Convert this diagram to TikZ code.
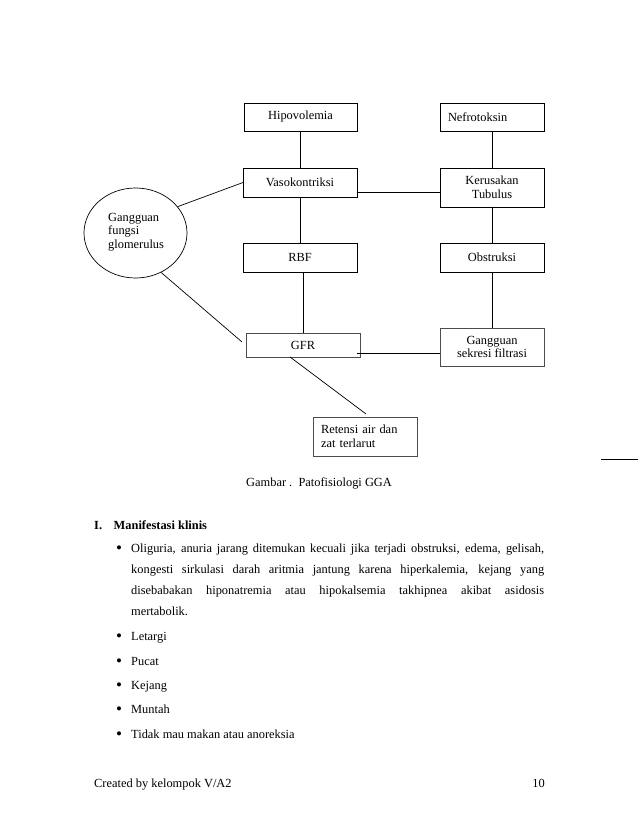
\documentclass[tikz,border=0pt]{standalone}
\usepackage{fontspec}
\setmainfont{Liberation Serif}
\usetikzlibrary{shapes.geometric,calc}
\begin{document}
\begin{tikzpicture}[x=1pt,y=-1pt,
  every node/.style={font=\fontsize{12.4}{14.5}\selectfont},
  box/.style={draw=black,line width=0.7pt,minimum width=#1,inner sep=0pt,outer sep=0pt,align=center},
  gbox/.style={draw=black!70,line width=0.8pt,minimum width=#1,inner sep=0pt,outer sep=0pt,align=center},
  link/.style={line width=0.7pt},
  txt/.style={anchor=base west,inner sep=0pt},
  bul/.style={anchor=base,inner sep=0pt,font=\fontsize{17}{17}\selectfont,yshift=-1.5pt},
]
\useasboundingbox[fill=white] (0,0) rectangle (638,826);
% boxes
\node[box=113pt,minimum height=28pt] (hipo) at (300.5,117) {Hipovolemia};
\node[box=114pt,minimum height=29pt] (vaso) at (300,182.5) {Vasokontriksi};
\node[box=114pt,minimum height=29pt] (rbf) at (300,257.5) {RBF};
\node[box=104pt,minimum height=28pt,text width=88pt,align=left] (nef) at (492,117) {Nefrotoksin};
\node[box=104pt,minimum height=39pt] (ker) at (492,187.5) {Kerusakan\\[-1pt]Tubulus};
\node[box=104pt,minimum height=29pt] (obs) at (492,257.5) {Obstruksi};
\node[gbox=114pt,minimum height=24pt] (gfr) at (303,345) {GFR};
\node[gbox=104pt,minimum height=38pt] (gs) at (492,347) {Gangguan\\[-1pt]sekresi filtrasi};
\node[gbox=104pt,minimum height=39pt,text width=88pt,align=left] (ret) at (365,436.5) {Retensi air dan\\[-1pt]zat terlarut};
\node[ellipse,draw=black,line width=0.7pt,minimum width=103pt,minimum height=90pt,inner sep=0pt] (ell) at (135.5,233) {};
\node[anchor=west,align=left,inner sep=0pt] (elltxt) at (108,232) {Gangguan\\[-1pt]fungsi\\[-1pt]glomerulus};
% connectors
\draw[link] (hipo.south) -- (hipo.south |- vaso.north);
\draw[link] (vaso.south) -- (vaso.south |- rbf.north);
\draw[link] (gfr.north) -- (gfr.north |- rbf.south);
\draw[link] ([yshift=-4.5pt]ker.west) -- ([yshift=-4.5pt]ker.west -| vaso.east);
\draw[link] (nef.south) -- (ker.north);
\draw[link] (ker.south) -- (obs.north);
\draw[link] (obs.south) -- (gs.north);
\draw[link] ([yshift=-6pt]gs.west) -- ([yshift=-6pt,xshift=-3pt]gs.west -| gfr.east);
\draw[link] (ell.32) -- (vaso.west);
\draw[link] (ell.-57) -- ([shift={(-4pt,3pt)}]gfr.west);
\draw[link] ([xshift=-13pt]gfr.south) -- ([shift={(1pt,3pt)}]ret.north);
% stray rule
\coordinate (r1) at (601,459);
\coordinate (r2) at (638,459);
\draw[line width=0.8pt] (r1) -- (r2);
% caption
\node[txt] (cap) at (246,486) {Gambar .\ \ Patofisiologi GGA};
% section
\node[txt] (sec) at (94,529) {\bfseries I.};
\node[txt] (sect) at (113.5,529) {\bfseries Manifestasi klinis};
\node[bul] (b1) at (119,552) {\textbullet};
\node[txt] (l1) at (131,552) {\makebox[413pt][s]{Oliguria, anuria jarang ditemukan kecuali jika terjadi obstruksi, edema, gelisah,}};
\node[txt] (l2) at (131,573) {\makebox[413pt][s]{kongesti sirkulasi darah aritmia jantung karena hiperkalemia, kejang yang}};
\node[txt] (l3) at (131,594) {\makebox[413pt][s]{disebabakan hiponatremia atau hipokalsemia takhipnea akibat asidosis}};
\node[txt] (l4) at (131,615) {mertabolik.};
\node[bul] (b2) at (119,640) {\textbullet};
\node[txt] (l5) at (131,640) {Letargi};
\node[bul] (b3) at (119,665) {\textbullet};
\node[txt] (l6) at (131,665) {Pucat};
\node[bul] (b4) at (119,689) {\textbullet};
\node[txt] (l7) at (131,689) {Kejang};
\node[bul] (b5) at (119,713) {\textbullet};
\node[txt] (l8) at (131,713) {Muntah};
\node[bul] (b6) at (119,738) {\textbullet};
\node[txt] (l9) at (131,738) {Tidak mau makan atau anoreksia};
% footer
\node[txt] (foot) at (94,787) {Created by kelompok V/A2};
\node[anchor=base east,inner sep=0pt] (page) at (545,787) {10};
\end{tikzpicture}
\end{document}
